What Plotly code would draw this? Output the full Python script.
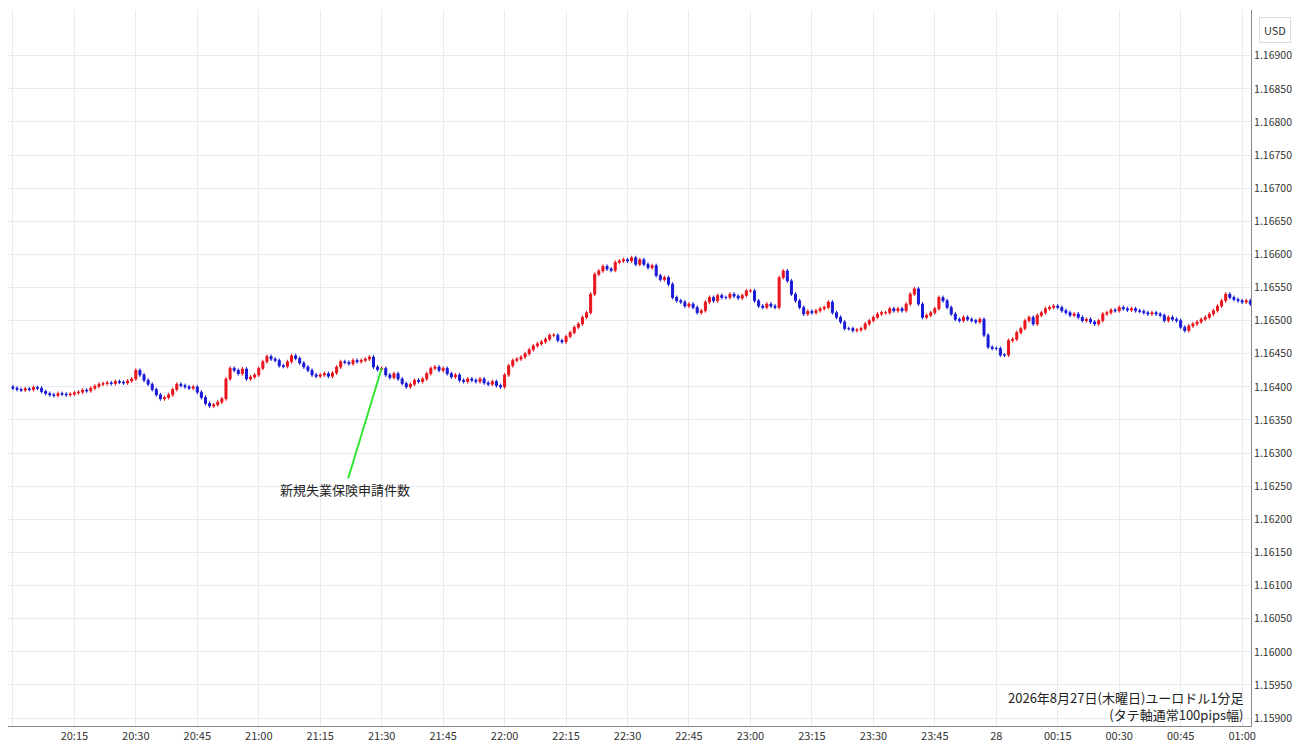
import pandas as pd
import plotly.graph_objects as go

# closes per minute, in 1/100000 above 1.16 (395 -> 1.16395), from 20:00
closes_pts = [
    398, 396, 395, 397, 396, 399, 398, 393, 390, 388, 387, 390, 389, 388, 389,
    391, 392, 395, 394, 398, 401, 404, 405, 406, 405, 408, 407, 406, 409, 412,
    425, 418, 410, 404, 396, 388, 382, 384, 388, 396, 404, 402, 400, 398, 400,
    392, 384, 375, 371, 373, 377, 382, 412, 428, 425, 420, 427, 412, 415, 418,
    428, 438, 446, 442, 440, 432, 431, 438, 447, 443, 436, 430, 425, 418, 416,
    418, 420, 416, 421, 430, 438, 437, 435, 440, 438, 440, 442, 445, 430, 426,
    428, 418, 414, 420, 412, 405, 400, 404, 410, 408, 412, 420, 428, 430, 425,
    428, 420, 415, 418, 410, 408, 412, 410, 408, 412, 406, 404, 408, 402, 400,
    418, 432, 440, 442, 445, 450, 456, 462, 465, 468, 472, 478, 478, 470, 468,
    476, 482, 490, 495, 505, 512, 540, 570, 575, 582, 578, 576, 588, 590, 592,
    590, 595, 585, 592, 585, 580, 583, 568, 562, 565, 555, 535, 530, 528, 522,
    525, 520, 512, 515, 528, 535, 530, 538, 535, 535, 540, 537, 534, 538, 545,
    545, 530, 522, 520, 525, 522, 520, 565, 575, 560, 540, 530, 520, 510, 514,
    512, 515, 518, 520, 528, 512, 505, 498, 488, 488, 485, 486, 488, 495, 500,
    505, 510, 512, 512, 518, 515, 518, 515, 525, 540, 548, 525, 505, 508, 512,
    518, 535, 530, 520, 510, 502, 500, 505, 502, 500, 498, 502, 478, 460, 458,
    458, 448, 448, 470, 472, 482, 488, 500, 505, 495, 508, 512, 518, 520, 522,
    520, 515, 512, 508, 510, 505, 500, 502, 498, 495, 500, 510, 512, 516, 515,
    520, 518, 516, 518, 515, 514, 512, 510, 512, 510, 508, 500, 505, 502, 500,
    490, 485, 492, 495, 498, 502, 505, 510, 515, 522, 530, 540, 535, 532, 530,
    528, 530, 525, 526, 524,
]
start = "2026-08-27 20:00"
tick_labels = ["20:00", "20:15", "20:30", "20:45", "21:00", "21:15", "21:30", "21:45",
               "22:00", "22:15", "22:30", "22:45", "23:00", "23:15", "23:30", "23:45",
               "28", "00:15", "00:30", "00:45", "01:00"]
price_ticks = [1.159 + 0.0005 * i for i in range(21)]

times = pd.date_range(start, periods=len(closes_pts), freq="1min")
close = [1.16 + c / 100000 for c in closes_pts]
opn = [close[0] + 0.00002] + close[:-1]
high = [max(o, c) + 0.00003 for o, c in zip(opn, close)]
low = [min(o, c) - 0.00003 for o, c in zip(opn, close)]
tick_times = pd.date_range(start, periods=len(tick_labels), freq="15min")

fig = go.Figure(go.Candlestick(
    x=times, open=opn, high=high, low=low, close=close,
    increasing=dict(line=dict(color="#e8141c", width=1), fillcolor="#e8141c"),
    decreasing=dict(line=dict(color="#1a1ad6", width=1), fillcolor="#1a1ad6"),
    whiskerwidth=0, showlegend=False,
))

font = "Noto Sans CJK JP, Noto Sans, sans-serif"
fig.add_annotation(
    x=pd.Timestamp("2026-08-27 21:30"), y=1.16428,
    ax=pd.Timestamp("2026-08-27 21:21"), ay=1.16245,
    axref="x", ayref="y", xref="x", yref="y",
    text="新規失業保険申請件数", showarrow=True, arrowhead=0,
    arrowcolor="#33e633", arrowwidth=2, font=dict(size=13, color="#222"),
)
fig.add_annotation(
    x=0.996, y=0.0, xref="paper", yref="paper", xanchor="right", yanchor="bottom",
    text="2026年8月27日(木曜日)ユーロドル1分足<br>(タテ軸通常100pips幅)", align="right",
    showarrow=False, font=dict(size=13, color="#222"),
)
fig.add_annotation(
    x=1.0, y=0.99, xref="paper", yref="paper", xanchor="left", yanchor="top",
    xshift=8, text="USD", showarrow=False, font=dict(size=11, color="#333"),
    bordercolor="#ddd", borderwidth=1, borderpad=4, bgcolor="white",
)

fig.update_layout(
    width=1300, height=745, margin=dict(l=0, r=57, t=2, b=27, autoexpand=False),
    paper_bgcolor="white", plot_bgcolor="white",
    font=dict(family=font, size=11, color="#333"),
    xaxis=dict(
        range=[pd.Timestamp("2026-08-27 19:58:48"), pd.Timestamp("2026-08-28 01:02:10")],
        tickvals=tick_times, ticktext=tick_labels, showgrid=True, gridcolor="#e6edf2",
        rangeslider=dict(visible=False), showline=True, linecolor="#888", ticks="",
        automargin=False,
    ),
    yaxis=dict(
        side="right", range=[1.15888, 1.16969], tickvals=price_ticks,
        ticktext=[f"{v:.5f}" for v in price_ticks], showgrid=True, gridcolor="#e6edf2",
        showline=True, linecolor="#888", ticks="", zeroline=False, automargin=False,
        tickfont=dict(size=10.5),
    ),
)

fig.write_html("out.html")
